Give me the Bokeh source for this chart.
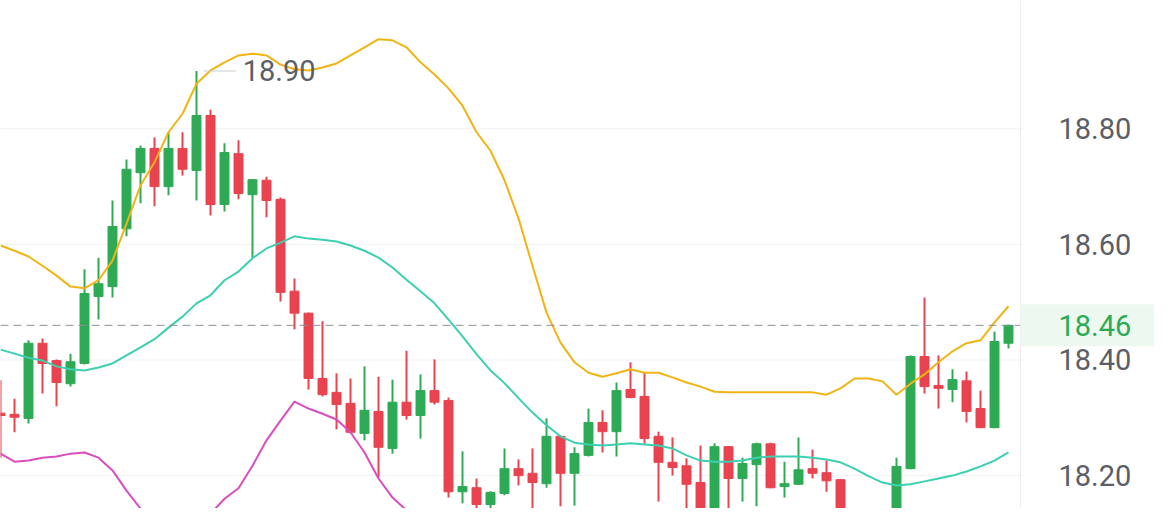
from bokeh.plotting import figure
from bokeh.models import Range1d, ColumnDataSource
from bokeh.core.properties import value
from bokeh.embed import file_html
from bokeh.resources import INLINE

opens = [18.308, 18.306, 18.299, 18.429, 18.399, 18.359, 18.394, 18.510, 18.527, 18.627,
         18.724, 18.766, 18.700, 18.766, 18.728, 18.823, 18.669, 18.757, 18.686, 18.711,
         18.678, 18.519, 18.481, 18.368, 18.344, 18.325, 18.273, 18.311, 18.247, 18.327,
         18.304, 18.347, 18.330, 18.172, 18.179, 18.150, 18.169, 18.212, 18.204, 18.186,
         18.268, 18.204, 18.235, 18.292, 18.276, 18.349, 18.337, 18.268, 18.223, 18.217,
         18.188, 18.088, 18.250, 18.195, 18.219, 18.255, 18.181, 18.185, 18.212, 18.205,
         18.193, 18.080, 18.040, 18.060, 18.085, 18.212, 18.406, 18.356, 18.349, 18.364,
         18.316, 18.283, 18.429]
highs = [18.365, 18.333, 18.434, 18.437, 18.401, 18.411, 18.557, 18.577, 18.676, 18.747,
         18.771, 18.785, 18.794, 18.794, 18.900, 18.833, 18.775, 18.780, 18.713, 18.717,
         18.681, 18.541, 18.482, 18.467, 18.377, 18.368, 18.389, 18.371, 18.366, 18.416,
         18.375, 18.401, 18.335, 18.242, 18.195, 18.173, 18.247, 18.228, 18.247, 18.299,
         18.269, 18.249, 18.316, 18.313, 18.361, 18.396, 18.378, 18.276, 18.266, 18.230,
         18.252, 18.256, 18.251, 18.231, 18.257, 18.257, 18.224, 18.266, 18.245, 18.226,
         18.194, 18.100, 18.090, 18.105, 18.231, 18.408, 18.508, 18.408, 18.384, 18.380,
         18.347, 18.449, 18.461]
lows = [18.231, 18.275, 18.290, 18.342, 18.320, 18.354, 18.392, 18.470, 18.508, 18.614,
        18.671, 18.666, 18.685, 18.719, 18.676, 18.650, 18.657, 18.678, 18.577, 18.647,
        18.501, 18.453, 18.349, 18.337, 18.280, 18.273, 18.261, 18.197, 18.238, 18.297,
        18.264, 18.323, 18.162, 18.152, 18.096, 18.096, 18.166, 18.183, 18.138, 18.179,
        18.147, 18.148, 18.233, 18.240, 18.233, 18.334, 18.255, 18.155, 18.200, 18.096,
        18.074, 18.070, 18.140, 18.155, 18.147, 18.178, 18.162, 18.184, 18.195, 18.172,
        18.062, 18.020, 18.000, 18.030, 18.070, 18.211, 18.342, 18.316, 18.327, 18.292,
        18.282, 18.282, 18.420]
closes = [18.304, 18.301, 18.429, 18.394, 18.361, 18.397, 18.515, 18.532, 18.631, 18.730,
          18.766, 18.700, 18.766, 18.730, 18.823, 18.669, 18.759, 18.688, 18.712, 18.676,
          18.517, 18.481, 18.368, 18.340, 18.323, 18.275, 18.313, 18.249, 18.327, 18.304,
          18.347, 18.327, 18.172, 18.181, 18.150, 18.171, 18.212, 18.200, 18.188, 18.268,
          18.204, 18.238, 18.292, 18.276, 18.347, 18.335, 18.264, 18.223, 18.214, 18.185,
          18.088, 18.250, 18.195, 18.221, 18.255, 18.179, 18.186, 18.210, 18.204, 18.191,
          18.079, 18.040, 18.060, 18.085, 18.216, 18.406, 18.354, 18.351, 18.366, 18.311,
          18.283, 18.432, 18.460]

upper = [18.598, 18.589, 18.579, 18.563, 18.546, 18.527, 18.524, 18.538, 18.572, 18.636,
         18.702, 18.742, 18.794, 18.826, 18.878, 18.901, 18.915, 18.927, 18.930, 18.927,
         18.911, 18.903, 18.901, 18.906, 18.913, 18.927, 18.941, 18.955, 18.953, 18.941,
         18.915, 18.894, 18.870, 18.840, 18.794, 18.762, 18.711, 18.645, 18.563, 18.482,
         18.430, 18.396, 18.378, 18.371, 18.377, 18.384, 18.378, 18.378, 18.370, 18.361,
         18.354, 18.345, 18.344, 18.344, 18.344, 18.344, 18.344, 18.344, 18.344, 18.340,
         18.351, 18.368, 18.368, 18.363, 18.340, 18.359, 18.375, 18.396, 18.415, 18.429,
         18.434, 18.465, 18.493]
middle = [18.418, 18.411, 18.404, 18.399, 18.389, 18.384, 18.382, 18.387, 18.394, 18.408,
          18.422, 18.436, 18.456, 18.475, 18.498, 18.512, 18.538, 18.553, 18.576, 18.593,
          18.603, 18.614, 18.610, 18.608, 18.605, 18.598, 18.589, 18.577, 18.560, 18.539,
          18.519, 18.498, 18.470, 18.441, 18.410, 18.382, 18.360, 18.334, 18.309, 18.287,
          18.268, 18.257, 18.254, 18.252, 18.254, 18.256, 18.254, 18.252, 18.247, 18.235,
          18.226, 18.224, 18.224, 18.226, 18.231, 18.233, 18.233, 18.233, 18.231, 18.228,
          18.223, 18.212, 18.199, 18.188, 18.183, 18.185, 18.190, 18.195, 18.200, 18.207,
          18.216, 18.226, 18.240]
lower = [18.238, 18.224, 18.226, 18.231, 18.233, 18.238, 18.240, 18.231, 18.209, 18.174,
         18.143, 18.133, 18.126, 18.133, 18.126, 18.134, 18.160, 18.178, 18.217, 18.261,
         18.295, 18.328, 18.316, 18.307, 18.297, 18.275, 18.240, 18.195, 18.162, 18.140,
         18.122, 18.102, 18.070, 18.041, 18.026, 18.001, 18.008, 18.022, 18.055, 18.091,
         18.105, 18.121, 18.129, 18.133, 18.131, 18.129, 18.128, 18.126, 18.124, 18.114,
         18.100, 18.103, 18.105, 18.110, 18.119, 18.121, 18.121, 18.121, 18.121, 18.117,
         18.095, 18.057, 18.029, 18.013, 18.026, 18.010, 18.005, 17.994, 17.986, 17.986,
         17.998, 17.988, 17.988]

y_ticks = [18.20, 18.40, 18.60, 18.80]
y_tick_labels = ["18.20", "18.40", "18.60", "18.80"]

GREEN = "#2eaa55"
RED = "#e8434f"
ORANGE = "#f0b414"
TEAL = "#3ccfb0"
MAGENTA = "#d94dbf"
TEXT = "#5b5e66"
FONT = value("Roboto")
FSIZE = value("29px")

n = len(opens)
idx = list(range(n))
colors = [GREEN if c >= o else RED for o, c in zip(opens, closes)]
src = ColumnDataSource(dict(
    x=idx, o=opens, h=highs, l=lows, c=closes,
    top=[max(o, c) for o, c in zip(opens, closes)],
    bottom=[min(o, c) for o, c in zip(opens, closes)],
    color=colors,
))

# price-axis column starts just after the last slot of the chart area
axis_x = n - 0.143          # vertical separator, right edge of the candle area
label_x = axis_x + 2.714    # left edge of the price labels

p = figure(width=1154, height=508, output_backend="svg", toolbar_location=None,
           x_axis_location=None, y_axis_location=None,
           x_range=Range1d(0.0, 82.4286), y_range=Range1d(18.14308, 19.02197),
           min_border_left=0, min_border_top=0, min_border_bottom=0, min_border_right=0)
p.outline_line_color = None
p.background_fill_color = "white"
p.border_fill_color = "white"
p.grid.visible = False

# horizontal grid lines at the price ticks
p.segment(x0=[0] * len(y_ticks), y0=y_ticks, x1=[axis_x + 0.2] * len(y_ticks), y1=y_ticks,
          line_color="#f0f1f4", line_width=1)
# separator between chart area and price axis
p.segment(x0=[axis_x], y0=[18.0], x1=[axis_x], y1=[19.1], line_color="#eceef2", line_width=1)

# wicks and bodies
p.segment(x0="x", y0="l", x1="x", y1="h", source=src, line_color="color", line_width=2)
p.vbar(x="x", width=0.64, top="top", bottom="bottom", source=src,
       fill_color="color", line_color="color", line_width=1)

# bands
p.line(idx, upper, line_color=ORANGE, line_width=2)
p.line(idx, middle, line_color=TEAL, line_width=2)
p.line(idx, lower, line_color=MAGENTA, line_width=2)

# last price dashed line
last = closes[-1]
p.segment(x0=[0], y0=[last], x1=[axis_x], y1=[last], line_color="#8e9099",
          line_dash="8 5", line_width=1)

# highest high marker
hi_i = max(idx, key=lambda i: highs[i])
hi_v = highs[hi_i]
p.segment(x0=[hi_i + 0.5], y0=[hi_v], x1=[hi_i + 2.8], y1=[hi_v],
          line_color="#c9cbd0", line_width=1)
p.text(x=[hi_i + 3.3], y=[hi_v], text=["%.2f" % hi_v], text_baseline="middle",
       text_align="left", text_color=TEXT, text_font=FONT, text_font_size=FSIZE)

# price axis labels
p.text(x=[label_x] * len(y_ticks), y=y_ticks, text=y_tick_labels, text_baseline="middle",
       text_align="left", text_color=TEXT, text_font=FONT, text_font_size=FSIZE)

# last price tag
p.rect(x=[axis_x + 5.4], y=[last], width=151, height=42, width_units="screen",
       height_units="screen", fill_color="#edf8f0", line_color=None)
p.text(x=[label_x], y=[last], text=["%.2f" % last], text_baseline="middle",
       text_align="left", text_color=GREEN, text_font=FONT, text_font_size=FSIZE)

open("out.html", "w").write(file_html(p, INLINE))
